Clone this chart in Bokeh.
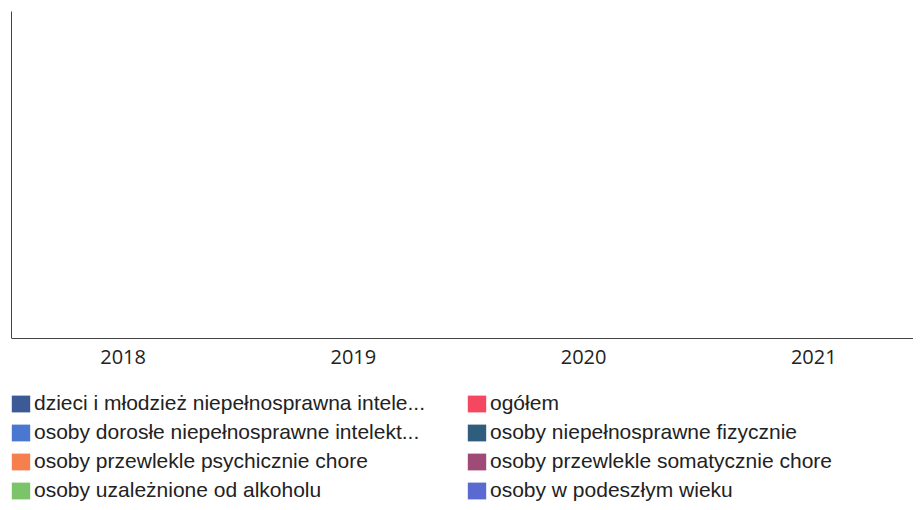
from bokeh.plotting import figure
from bokeh.models import ColumnDataSource, Legend, LegendItem, Range1d, FixedTicker, LinearAxis
from bokeh.transform import dodge
from bokeh.embed import file_html
from bokeh.resources import INLINE

years = ["2018", "2019", "2020", "2021"]

series_names = [
    "dzieci i młodzież niepełnosprawna intele...",
    "osoby dorosłe niepełnosprawne intelekt...",
    "osoby przewlekle psychicznie chore",
    "osoby uzależnione od alkoholu",
    "ogółem",
    "osoby niepełnosprawne fizycznie",
    "osoby przewlekle somatycznie chore",
    "osoby w podeszłym wieku",
]
series_colors = ["#3b5a96", "#4a78d0", "#f5804e", "#7cc46a",
                 "#f5475f", "#2f5d7d", "#a04a78", "#5a6ad0"]

dzieci = [0, 0, 0, 0]
dorosle = [0, 0, 0, 0]
psychicznie = [0, 0, 0, 0]
alkohol = [0, 0, 0, 0]
ogolem = [0, 0, 0, 0]
fizycznie = [0, 0, 0, 0]
somatycznie = [0, 0, 0, 0]
wiek = [0, 0, 0, 0]

series_values = [dzieci, dorosle, psychicznie, alkohol, ogolem, fizycznie, somatycznie, wiek]

xs = list(range(len(years)))
src = {"x": xs}
for i, vals in enumerate(series_values):
    src[f"s{i}"] = vals
source = ColumnDataSource(src)

p = figure(x_range=Range1d(-0.4848, 3.433), y_range=Range1d(-0.5015, 1),
           width=913, height=502, output_backend="svg", toolbar_location=None,
           min_border_left=11, min_border_top=11, min_border_right=0, min_border_bottom=0,
           x_axis_location=None, y_axis_location=None)

items = []
bw = 0.09
for i, (name, col) in enumerate(zip(series_names, series_colors)):
    off = (i - 3.5) * bw
    r = p.vbar(x=dodge("x", off), top=f"s{i}", bottom=0, width=bw * 0.9,
               source=source, fill_color=col, line_color=None)
    items.append(LegendItem(label=name, renderers=[r]))

p.xgrid.visible = False
p.ygrid.visible = False
p.outline_line_color = None

xaxis = LinearAxis(ticker=FixedTicker(ticks=xs),
                   major_label_overrides={i: y for i, y in zip(xs, years)},
                   fixed_location=0)
xaxis.major_tick_line_color = None
xaxis.minor_tick_line_color = None
xaxis.major_tick_out = 0
xaxis.major_tick_in = 0
xaxis.axis_line_color = "#444444"
xaxis.major_label_text_font = "Open Sans"
xaxis.major_label_text_font_size = "20px"
xaxis.major_label_text_color = "#222222"
xaxis.major_label_standoff = 11
p.add_layout(xaxis, "below")

yaxis = LinearAxis(ticker=FixedTicker(ticks=[]), bounds=(0, 1))
yaxis.major_tick_line_color = None
yaxis.minor_tick_line_color = None
yaxis.major_tick_out = 0
yaxis.major_tick_in = 0
yaxis.major_label_text_font_size = "0px"
yaxis.major_label_standoff = 0
yaxis.axis_line_color = "#444444"
p.add_layout(yaxis, "left")

legend = Legend(items=items, ncols=2, orientation="vertical",
                location=(-2, 0),
                label_text_font="Liberation Sans", label_text_font_size="21px",
                label_text_color="#222222",
                glyph_width=23, glyph_height=21, label_standoff=2,
                label_width=426, label_height=19, spacing=5,
                padding=0, margin=0, border_line_color=None,
                background_fill_alpha=0)
p.add_layout(legend, "center")

open("out.html", "w").write(file_html(p, INLINE))
